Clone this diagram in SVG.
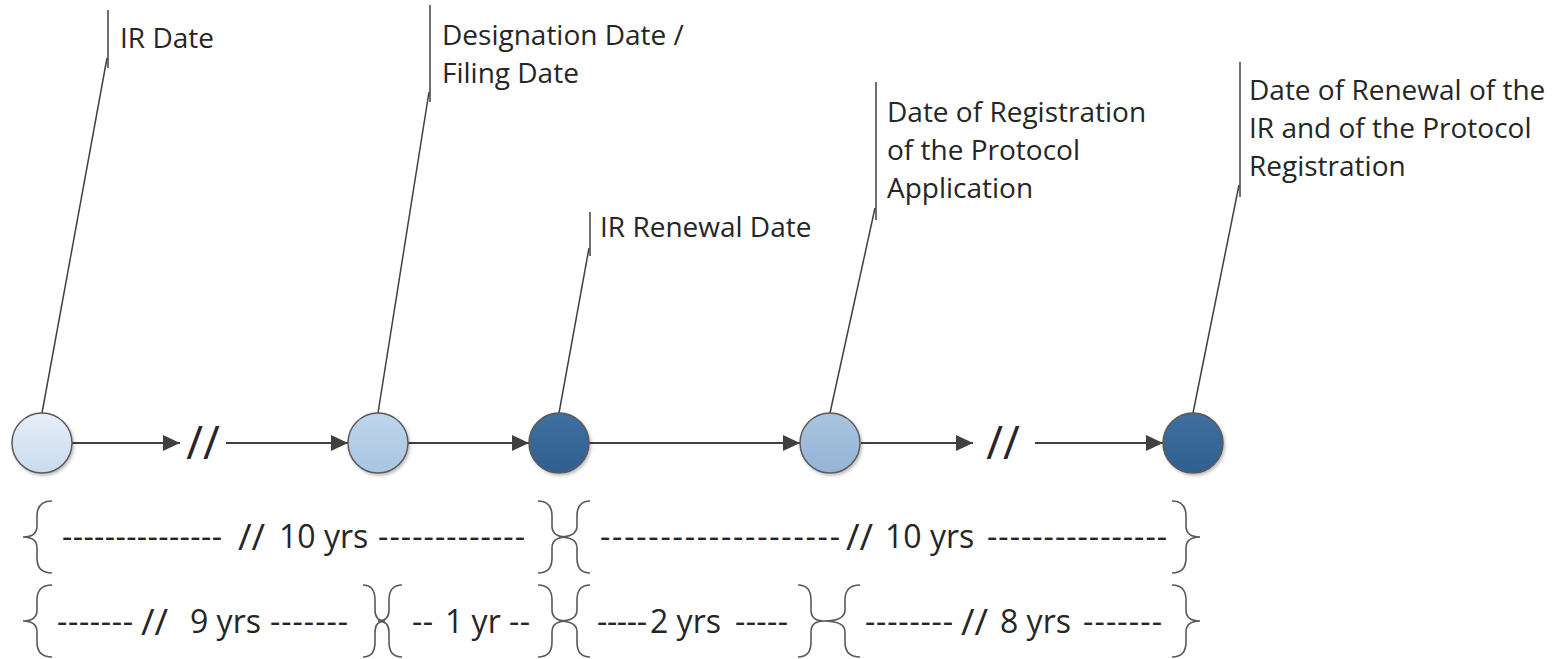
<svg xmlns="http://www.w3.org/2000/svg" width="1554" height="659" viewBox="0 0 1554 659">
<style>
.lbl{font-family:"Open Sans","Liberation Sans",sans-serif;font-size:28px;fill:#262626}
.dur{font-family:"Open Sans","Liberation Sans",sans-serif;font-size:32px;fill:#262626}
.sl{font-family:"Open Sans","Liberation Sans",sans-serif;font-size:37px;fill:#262626}
.dsh{font-family:"Open Sans","Liberation Sans",sans-serif;font-size:32px;fill:#262626}
.brk{font-family:"Open Sans","Liberation Sans",sans-serif;font-size:46px;fill:#262626;text-anchor:middle}
.call{stroke:#404040;stroke-width:1.5;fill:none}
.arr{stroke:#404040;stroke-width:2;fill:none;marker-end:url(#ah)}
.brace{stroke:#595959;stroke-width:1.6;fill:none}
.node{stroke:#5a5a5a;stroke-width:1.5;filter:url(#sh)}
</style>
<defs>
<marker id="ah" markerUnits="userSpaceOnUse" markerWidth="18" markerHeight="16" refX="17" refY="8" orient="auto">
<path d="M0,0 L17,8 L0,16 z" fill="#404040"/>
</marker>
<linearGradient id="g1" x1="0" y1="0" x2="0" y2="1"><stop offset="0" stop-color="#e6eff8"/><stop offset="1" stop-color="#c8dbee"/></linearGradient>
<linearGradient id="g2" x1="0" y1="0" x2="0" y2="1"><stop offset="0" stop-color="#c0d6eb"/><stop offset="1" stop-color="#a8c5e2"/></linearGradient>
<linearGradient id="g3" x1="0" y1="0" x2="0" y2="1"><stop offset="0" stop-color="#3e70a0"/><stop offset="1" stop-color="#2f5f8f"/></linearGradient>
<linearGradient id="g4" x1="0" y1="0" x2="0" y2="1"><stop offset="0" stop-color="#a9c4df"/><stop offset="1" stop-color="#94b4d5"/></linearGradient>
<filter id="sh" x="-20%" y="-20%" width="150%" height="150%"><feDropShadow dx="1.5" dy="2" stdDeviation="1.5" flood-color="#000" flood-opacity="0.25"/></filter>
</defs>
<rect width="1554" height="659" fill="#fff"/>

<g id="connectors">
<line class="arr" x1="72" y1="443" x2="180" y2="443"/>
<text class="brk" x="203" y="459">//</text>
<line class="arr" x1="226" y1="443" x2="348" y2="443"/>
<line class="arr" x1="408" y1="443" x2="529" y2="443"/>
<line class="arr" x1="589" y1="443" x2="800" y2="443"/>
<line class="arr" x1="861" y1="443" x2="973" y2="443"/>
<text class="brk" x="1003" y="459">//</text>
<line class="arr" x1="1035" y1="443" x2="1163" y2="443"/>
<path class="call" d="M42,413 L107,58"/>
<path class="call" d="M378,413 L429,92"/>
<path class="call" d="M559,413 L589,248"/>
<path class="call" d="M830,413 L875,208"/>
<path class="call" d="M1193,413 L1239,185"/>
</g>

<g id="n1">
<circle class="node" cx="42" cy="443" r="30" fill="url(#g1)"/>
<line class="call" x1="108" y1="10" x2="108" y2="68"/>
<text class="lbl" x="120" y="48">IR Date</text>
</g>
<g id="n2">
<circle class="node" cx="378" cy="443" r="30" fill="url(#g2)"/>
<line class="call" x1="430" y1="5" x2="430" y2="102"/>
<text class="lbl" x="442" y="45">Designation Date /</text>
<text class="lbl" x="442" y="83">Filing Date</text>
</g>
<g id="n3">
<circle class="node" cx="559" cy="443" r="30" fill="url(#g3)"/>
<line class="call" x1="590" y1="212" x2="590" y2="256"/>
<text class="lbl" x="600" y="237">IR Renewal Date</text>
</g>
<g id="n4">
<circle class="node" cx="830" cy="443" r="30" fill="url(#g4)"/>
<line class="call" x1="876" y1="82" x2="876" y2="220"/>
<text class="lbl" x="887" y="122">Date of Registration</text>
<text class="lbl" x="887" y="160">of the Protocol</text>
<text class="lbl" x="887" y="198">Application</text>
</g>
<g id="n5">
<circle class="node" cx="1193" cy="443" r="30" fill="url(#g3)"/>
<line class="call" x1="1240" y1="62" x2="1240" y2="197"/>
<text class="lbl" x="1249" y="100">Date of Renewal of the</text>
<text class="lbl" x="1249" y="138">IR and of the Protocol</text>
<text class="lbl" x="1249" y="176">Registration</text>
</g>

<g id="durations">
<!-- row 1 braces -->
<path class="brace" d="M52,501 Q37,501 37,516 L37,526 Q37,537 23,537 Q37,537 37,548 L37,558 Q37,573 52,573"/>
<path class="brace" d="M538,501 Q552,501 552,516 L552,526 Q552,537 567,537 Q552,537 552,548 L552,558 Q552,573 538,573"/>
<path class="brace" d="M590,501 Q577,501 577,516 L577,526 Q577,537 559,537 Q577,537 577,548 L577,558 Q577,573 590,573"/>
<path class="brace" d="M1172,501 Q1186,501 1186,516 L1186,526 Q1186,537 1200,537 Q1186,537 1186,548 L1186,558 Q1186,573 1172,573"/>
<!-- row 1 text -->
<text class="dsh" x="62" y="548" textLength="160" lengthAdjust="spacing">---------------</text>
<text class="sl" x="238" y="550">//</text>
<text class="dur" x="279" y="548">10 yrs</text>
<text class="dsh" x="378" y="548" textLength="147" lengthAdjust="spacing">-------------</text>
<text class="dsh" x="600" y="548" textLength="240" lengthAdjust="spacing">--------------------</text>
<text class="sl" x="846" y="550">//</text>
<text class="dur" x="885" y="548">10 yrs</text>
<text class="dsh" x="987" y="548" textLength="180" lengthAdjust="spacing">----------------</text>

<!-- row 2 braces -->
<path class="brace" d="M52,585 Q37,585 37,600 L37,610 Q37,621 23,621 Q37,621 37,632 L37,642 Q37,657 52,657"/>
<path class="brace" d="M363,585 Q375,585 375,600 L375,610 Q375,621 385,621 Q375,621 375,632 L375,642 Q375,657 363,657"/>
<path class="brace" d="M402,585 Q389,585 389,600 L389,610 Q389,621 378,621 Q389,621 389,632 L389,642 Q389,657 402,657"/>
<path class="brace" d="M538,585 Q552,585 552,600 L552,610 Q552,621 567,621 Q552,621 552,632 L552,642 Q552,657 538,657"/>
<path class="brace" d="M590,585 Q577,585 577,600 L577,610 Q577,621 559,621 Q577,621 577,632 L577,642 Q577,657 590,657"/>
<path class="brace" d="M798,585 Q811,585 811,600 L811,610 Q811,621 824,621 Q811,621 811,632 L811,642 Q811,657 798,657"/>
<path class="brace" d="M860,585 Q845,585 845,600 L845,610 Q845,621 824,621 Q845,621 845,632 L845,642 Q845,657 860,657"/>
<path class="brace" d="M1172,585 Q1186,585 1186,600 L1186,610 Q1186,621 1200,621 Q1186,621 1186,632 L1186,642 Q1186,657 1172,657"/>
<!-- row 2 text -->
<text class="dsh" x="57" y="633" textLength="76" lengthAdjust="spacing">-------</text>
<text class="sl" x="141" y="635">//</text>
<text class="dur" x="190" y="633">9 yrs</text>
<text class="dsh" x="270" y="633" textLength="78" lengthAdjust="spacing">-------</text>
<text class="dsh" x="412" y="633" textLength="21" lengthAdjust="spacing">--</text>
<text class="dur" x="445" y="633">1 yr</text>
<text class="dsh" x="509" y="633" textLength="21" lengthAdjust="spacing">--</text>
<text class="dsh" x="597" y="633" textLength="50" lengthAdjust="spacing">-----</text>
<text class="dur" x="650" y="633">2 yrs</text>
<text class="dsh" x="735" y="633" textLength="53" lengthAdjust="spacing">-----</text>
<text class="dsh" x="865" y="633" textLength="88" lengthAdjust="spacing">--------</text>
<text class="sl" x="961" y="635">//</text>
<text class="dur" x="1000" y="633">8 yrs</text>
<text class="dsh" x="1083" y="633" textLength="79" lengthAdjust="spacing">-------</text>
</g>
</svg>
